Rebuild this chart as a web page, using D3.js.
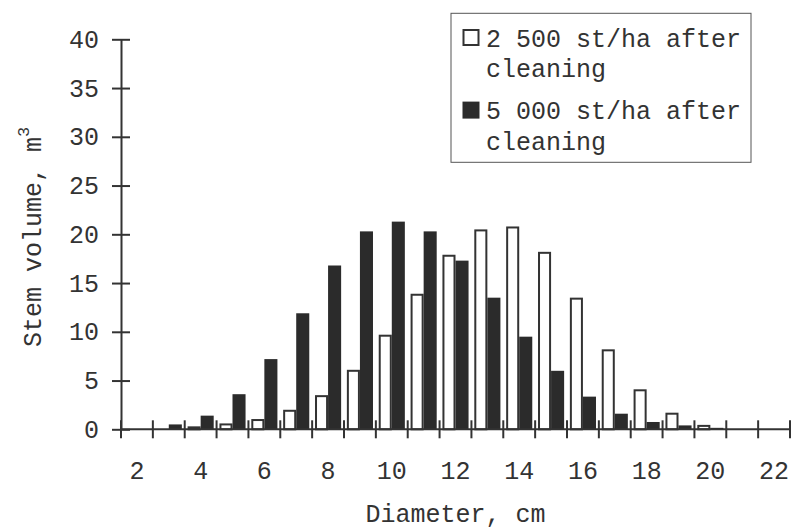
<!DOCTYPE html>
<html>
<head>
<meta charset="utf-8">
<script src="https://cdn.jsdelivr.net/npm/d3@7"></script>
<style>
  body { margin: 0; background: #fff; }
  text { font-family: "Courier New", "Liberation Mono", monospace; fill: #333; }
</style>
</head>
<body>
<svg width="793" height="530"></svg>
<script>
// diameter classes, cm
var diameters = [2, 3, 4, 5, 6, 7, 8, 9, 10, 11, 12, 13, 14, 15, 16, 17, 18, 19, 20, 21, 22];

// stem volume, m3
var vol2500 = [0, 0, 0.2, 0.5, 0.95, 1.9, 3.4, 6.0, 9.6, 13.8, 17.8, 20.4, 20.7, 18.1, 13.4, 8.1, 4.0, 1.6, 0.35, 0, 0];
var vol5000 = [0, 0.5, 1.4, 3.6, 7.2, 11.9, 16.8, 20.3, 21.3, 20.3, 17.3, 13.5, 9.5, 6.0, 3.35, 1.6, 0.75, 0.4, 0.15, 0, 0];

var seriesNames = ["2 500 st/ha after cleaning", "5 000 st/ha after cleaning"];
var yTicks = [0, 5, 10, 15, 20, 25, 30, 35, 40];
var xLabels = [2, 4, 6, 8, 10, 12, 14, 16, 18, 20, 22];

var svg = d3.select("svg"),
    plotLeft = 121, plotRight = 790, plotTop = 39.3, plotBottom = 429.3,
    ink = "#333",
    dark = "#2b2b2b",
    fontSize = "25px";

var x = d3.scaleBand()
    .domain(diameters)
    .range([plotLeft, plotRight]);

var x1 = d3.scaleBand()
    .domain([0, 1])
    .range([0, x.bandwidth()])
    .paddingOuter(0.22);

var y = d3.scaleLinear()
    .domain([0, 40])
    .range([plotBottom, plotTop]);

// bars
var data = diameters.map(function(d, i) {
    return { d: d, v: [vol2500[i], vol5000[i]] };
});

var groups = svg.append("g")
    .selectAll("g")
    .data(data)
    .enter().append("g")
    .attr("transform", function(d) { return "translate(" + x(d.d) + ",0)"; });

groups.selectAll("rect")
    .data(function(d) { return d.v.map(function(v, k) { return { k: k, v: v }; }); })
    .enter().filter(function(d) { return d.v > 0; })
    .append("rect")
    .attr("x", function(d) { return x1(d.k) + (d.k === 0 ? 1 : 0); })
    .attr("y", function(d) { return y(d.v); })
    .attr("width", function(d) { return x1.bandwidth() - (d.k === 0 ? 2 : 0); })
    .attr("height", function(d) { return plotBottom - y(d.v); })
    .attr("fill", function(d) { return d.k === 0 ? "#fff" : dark; })
    .attr("stroke", function(d) { return d.k === 0 ? ink : "none"; })
    .attr("stroke-width", 2);

// y axis
var yAxis = svg.append("g")
    .attr("transform", "translate(" + plotLeft + ",0)")
    .call(d3.axisLeft(y).tickValues(yTicks).tickSize(0).tickPadding(22));

yAxis.select(".domain").attr("stroke", ink).attr("stroke-width", 2);
yAxis.selectAll(".tick line")
    .attr("x1", -9).attr("x2", 9)
    .attr("stroke", ink).attr("stroke-width", 2);
yAxis.selectAll(".tick text")
    .style("font-size", fontSize)
    .style("font-family", "'Courier New', 'Liberation Mono', monospace")
    .attr("fill", ink);

// x axis
svg.append("line")
    .attr("x1", plotLeft).attr("x2", plotRight)
    .attr("y1", plotBottom).attr("y2", plotBottom)
    .attr("stroke", ink).attr("stroke-width", 2);

var bounds = diameters.map(function(d) { return x(d); }).concat([plotRight]);

svg.append("g").selectAll("line")
    .data(bounds)
    .enter().append("line")
    .attr("x1", function(d) { return d; }).attr("x2", function(d) { return d; })
    .attr("y1", plotBottom - 9).attr("y2", plotBottom + 9)
    .attr("stroke", ink).attr("stroke-width", 2);

svg.append("g").selectAll("text")
    .data(xLabels)
    .enter().append("text")
    .attr("x", function(d) { return x(d) + x.bandwidth() / 2; })
    .attr("y", 479)
    .attr("text-anchor", "middle")
    .style("font-size", fontSize)
    .text(function(d) { return d; });

// axis titles
svg.append("text")
    .attr("x", (plotLeft + plotRight) / 2)
    .attr("y", 522)
    .attr("text-anchor", "middle")
    .style("font-size", fontSize)
    .text("Diameter, cm");

var yTitle = svg.append("text")
    .attr("transform", "translate(41,347) rotate(-90)")
    .style("font-size", fontSize);
yTitle.append("tspan").text("Stem volume, m");
yTitle.append("tspan")
    .attr("dy", -12)
    .style("font-size", "17px")
    .text("3");

// legend
var legend = svg.append("g");

legend.append("rect")
    .attr("x", 451).attr("y", 13.3)
    .attr("width", 300).attr("height", 149)
    .attr("fill", "#fff")
    .attr("stroke", "#555").attr("stroke-width", 1);

var entries = legend.selectAll("g.entry")
    .data(seriesNames)
    .enter().append("g")
    .attr("class", "entry")
    .attr("transform", function(d, i) { return "translate(0," + (i * 72.6) + ")"; });

entries.append("rect")
    .attr("x", function(d, i) { return i === 0 ? 463.5 : 462.5; })
    .attr("y", function(d, i) { return i === 0 ? 30 : 29; })
    .attr("width", function(d, i) { return i === 0 ? 15 : 17; })
    .attr("height", function(d, i) { return i === 0 ? 15 : 17; })
    .attr("fill", function(d, i) { return i === 0 ? "#fff" : dark; })
    .attr("stroke", function(d, i) { return i === 0 ? ink : "none"; })
    .attr("stroke-width", 2);

var labels = entries.append("text")
    .attr("x", 486)
    .attr("y", 46.7)
    .style("font-size", fontSize);

labels.append("tspan")
    .text(function(d) { return d.replace(" cleaning", ""); });
labels.append("tspan")
    .attr("x", 486)
    .attr("dy", 30.6)
    .text("cleaning");
</script>
</body>
</html>
